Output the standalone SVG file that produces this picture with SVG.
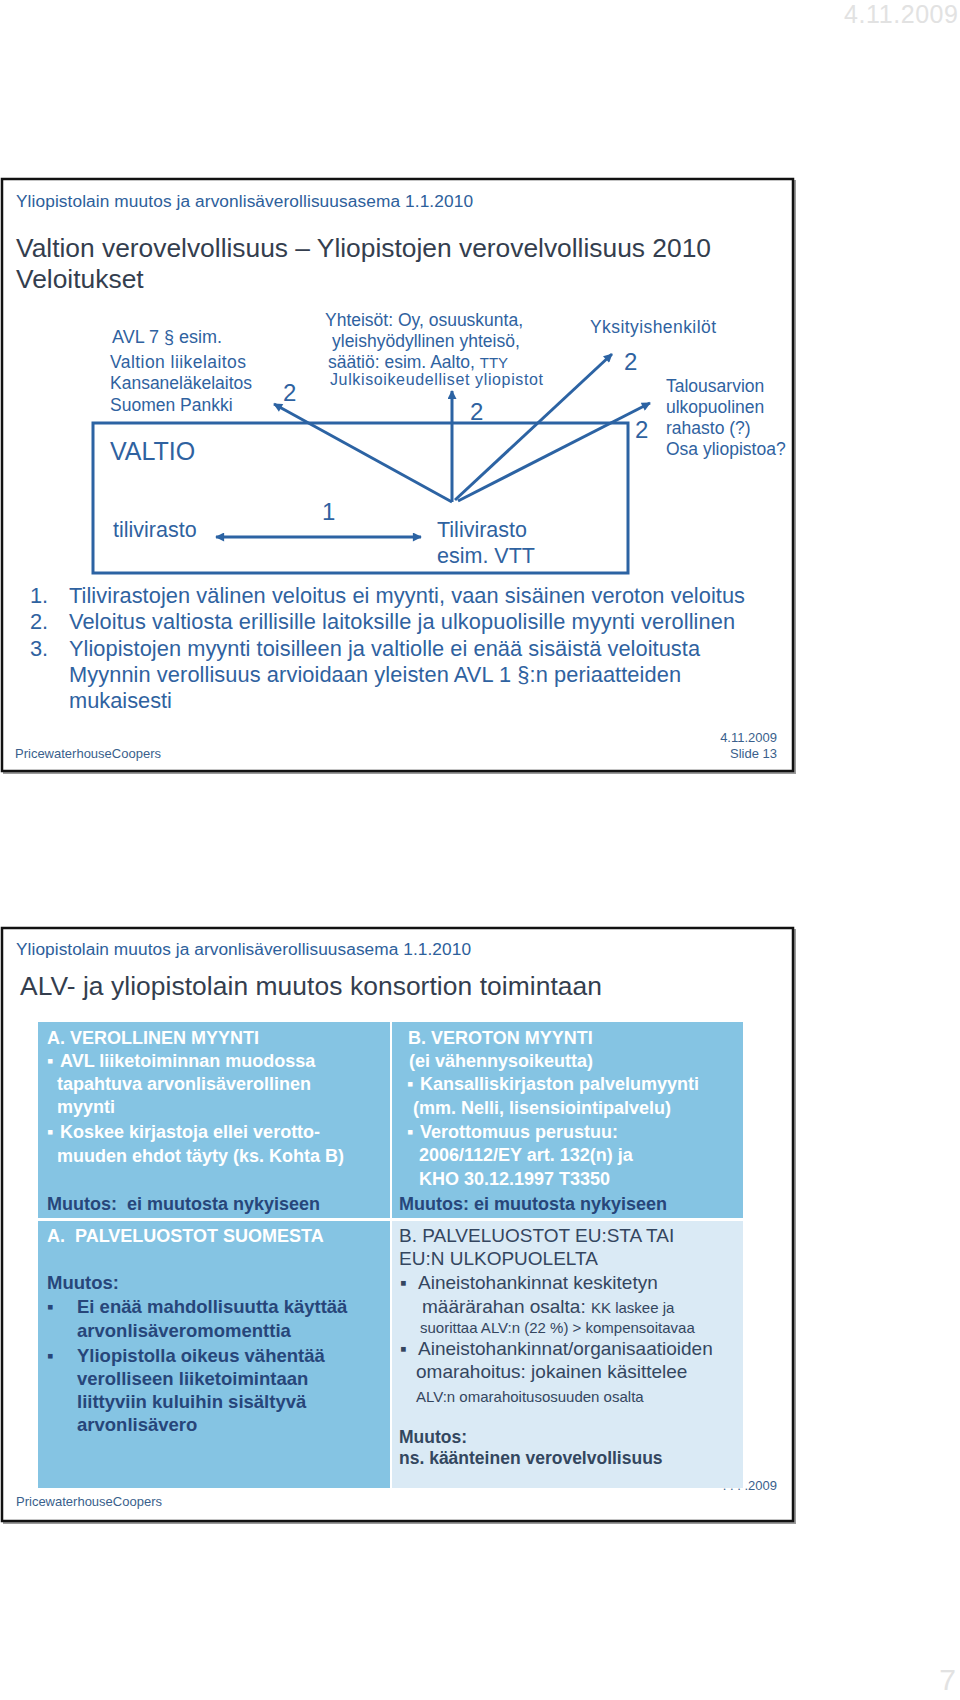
<svg xmlns="http://www.w3.org/2000/svg" width="960" height="1700" viewBox="0 0 960 1700">
<defs>
<marker id="ah" viewBox="0 0 10 10" refX="9" refY="5" markerWidth="11" markerHeight="9" markerUnits="userSpaceOnUse" orient="auto-start-reverse">
<path d="M0,0 L10,5 L0,10 z" fill="#2C63A3"/>
</marker>
<style>
text{font-family:"Liberation Sans","DejaVu Sans",Arial,sans-serif;}
.frame{fill:#fff;stroke:#111;stroke-width:2.5;}
.shadow{fill:none;stroke:#9a9a9a;stroke-width:2;}
.hdr{font-size:17.3px;fill:#2D609B;}
.ttl{font-size:26.4px;fill:#343E4E;}
.dg{font-size:17.5px;fill:#2F62A0;}
.num{font-size:24px;fill:#2F62A0;}
.lst{font-size:21.8px;fill:#2F62A0;}
.ft{font-size:13px;fill:#3A5F8C;}
.conn{stroke:#2C63A3;stroke-width:3;fill:none;}
.wb{font-size:18px;font-weight:bold;fill:#ffffff;}
.nb{font-size:18.5px;font-weight:bold;fill:#27467A;}
.nr{font-size:19px;fill:#34465F;}
.ns{font-size:15px;fill:#34465F;}
.ghost{fill:#E2E2E2;}
</style>
</defs>

<text class="ghost" x="958" y="23" text-anchor="end" style="font-size:25px" textLength="114">4.11.2009</text>

<!-- SLIDE 1 -->
<g id="slide1">
<rect class="shadow" x="4" y="181" width="791" height="592"/>
<rect class="frame" x="2" y="179" width="791" height="592"/>
<text class="hdr" x="16" y="207" textLength="457">Yliopistolain muutos ja arvonlisäverollisuusasema 1.1.2010</text>
<text class="ttl" x="16" y="257" textLength="695">Valtion verovelvollisuus – Yliopistojen verovelvollisuus 2010</text>
<text class="ttl" x="16" y="288">Veloitukset</text>
</g>

<g id="valtio">
<rect x="93" y="423" width="535" height="150" fill="none" stroke="#2C63A3" stroke-width="3"/>
<text class="dg" x="110" y="460" style="font-size:25px">VALTIO</text>
</g>

<g id="liikelaitokset">
<text class="dg" x="112" y="343" style="font-size:18px">AVL 7 § esim.</text>
<text class="dg" x="110" y="368" textLength="136">Valtion liikelaitos</text>
<text class="dg" x="110" y="389">Kansaneläkelaitos</text>
<text class="dg" x="110" y="411">Suomen Pankki</text>
</g>

<g id="yhteisot">
<text class="dg" x="325" y="326" textLength="198">Yhteisöt: Oy, osuuskunta,</text>
<text class="dg" x="332" y="347">yleishyödyllinen yhteisö,</text>
<text class="dg" x="328" y="368">säätiö: esim. Aalto, <tspan style="font-size:15px">TTY</tspan></text>
<text class="dg" x="330" y="385" style="font-size:16px" textLength="213">Julkisoikeudelliset yliopistot</text>
</g>

<g id="yksityis">
<text class="dg" x="590" y="333" textLength="126">Yksityishenkilöt</text>
</g>

<g id="talousarvio">
<text class="dg" x="666" y="392">Talousarvion</text>
<text class="dg" x="666" y="413">ulkopuolinen</text>
<text class="dg" x="666" y="434">rahasto (?)</text>
<text class="dg" x="666" y="455">Osa yliopistoa?</text>
</g>

<g id="tilivirasto-a">
<text class="dg" x="113" y="537" style="font-size:21.5px">tilivirasto</text>
</g>

<g id="tilivirasto-b">
<text class="dg" x="437" y="537" style="font-size:21.5px">Tilivirasto</text>
<text class="dg" x="437" y="563" style="font-size:21.5px">esim. VTT</text>
</g>

<g id="connectors">
<line class="conn" x1="452" y1="502" x2="274" y2="404" marker-end="url(#ah)"/>
<line class="conn" x1="452" y1="502" x2="452" y2="391" marker-end="url(#ah)"/>
<line class="conn" x1="455" y1="500" x2="612" y2="354" marker-end="url(#ah)"/>
<line class="conn" x1="458" y1="501" x2="650" y2="403" marker-end="url(#ah)"/>
<line class="conn" x1="216" y1="537" x2="421" y2="537" marker-start="url(#ah)" marker-end="url(#ah)"/>
<text class="num" x="283" y="401">2</text>
<text class="num" x="470" y="420">2</text>
<text class="num" x="624" y="370">2</text>
<text class="num" x="635" y="438">2</text>
<text class="num" x="322" y="520">1</text>
</g>

<g id="list1">
<text class="lst" x="30" y="603">1.</text>
<text class="lst" x="69" y="603" textLength="676">Tilivirastojen välinen veloitus ei myynti, vaan sisäinen veroton veloitus</text>
<text class="lst" x="30" y="629">2.</text>
<text class="lst" x="69" y="629" textLength="666">Veloitus valtiosta erillisille laitoksille ja ulkopuolisille myynti verollinen</text>
<text class="lst" x="30" y="656">3.</text>
<text class="lst" x="69" y="656" textLength="631">Yliopistojen myynti toisilleen ja valtiolle ei enää sisäistä veloitusta</text>
<text class="lst" x="69" y="682" textLength="612">Myynnin verollisuus arvioidaan yleisten AVL 1 §:n periaatteiden</text>
<text class="lst" x="69" y="708">mukaisesti</text>
</g>

<g id="footer1">
<text class="ft" x="15" y="758">PricewaterhouseCoopers</text>
<text class="ft" x="777" y="742" text-anchor="end">4.11.2009</text>
<text class="ft" x="777" y="758" text-anchor="end">Slide 13</text>
</g>

<!-- SLIDE 2 -->
<g id="slide2">
<rect class="shadow" x="4" y="930" width="791" height="593"/>
<rect class="frame" x="2" y="928" width="791" height="593"/>
<text class="hdr" x="16" y="955" textLength="455">Yliopistolain muutos ja arvonlisäverollisuusasema 1.1.2010</text>
<text class="ttl" x="20" y="995" textLength="582">ALV- ja yliopistolain muutos konsortion toimintaan</text>
</g>

<g id="cellA1">
<rect x="38" y="1022" width="352" height="196" fill="#85C4E3"/>
<text class="wb" x="47" y="1044">A. VEROLLINEN MYYNTI</text>
<text class="wb" y="1067"><tspan x="47">▪</tspan><tspan x="60">AVL liiketoiminnan muodossa</tspan></text>
<text class="wb" x="57" y="1090">tapahtuva arvonlisäverollinen</text>
<text class="wb" x="57" y="1113">myynti</text>
<text class="wb" y="1138"><tspan x="47">▪</tspan><tspan x="60">Koskee kirjastoja ellei verotto-</tspan></text>
<text class="wb" x="57" y="1162">muuden ehdot täyty (ks. Kohta B)</text>
<text class="nb" x="47" y="1210" style="font-size:18px;white-space:pre">Muutos:  ei muutosta nykyiseen</text>
</g>

<g id="cellB1">
<rect x="392" y="1022" width="351" height="196" fill="#85C4E3"/>
<text class="wb" x="408" y="1044">B. VEROTON MYYNTI</text>
<text class="wb" x="409" y="1067">(ei vähennysoikeutta)</text>
<text class="wb" y="1090"><tspan x="407">▪</tspan><tspan x="420">Kansalliskirjaston palvelumyynti</tspan></text>
<text class="wb" x="413" y="1114">(mm. Nelli, lisensiointipalvelu)</text>
<text class="wb" y="1138"><tspan x="407">▪</tspan><tspan x="420">Verottomuus perustuu:</tspan></text>
<text class="wb" x="419" y="1161">2006/112/EY art. 132(n) ja</text>
<text class="wb" x="419" y="1185">KHO 30.12.1997 T3350</text>
<text class="nb" x="399" y="1210" style="font-size:18px">Muutos: ei muutosta nykyiseen</text>
</g>

<g id="cellA2">
<rect x="38" y="1221" width="352" height="267" fill="#85C4E3"/>
<text class="wb" x="47" y="1242" style="white-space:pre">A.  PALVELUOSTOT SUOMESTA</text>
<text class="nb" x="47" y="1289">Muutos:</text>
<text class="nb" y="1313"><tspan x="47">▪</tspan><tspan x="77">Ei enää mahdollisuutta käyttää</tspan></text>
<text class="nb" x="77" y="1337">arvonlisäveromomenttia</text>
<text class="nb" y="1362"><tspan x="47">▪</tspan><tspan x="77">Yliopistolla oikeus vähentää</tspan></text>
<text class="nb" x="77" y="1385">verolliseen liiketoimintaan</text>
<text class="nb" x="77" y="1408">liittyviin kuluihin sisältyvä</text>
<text class="nb" x="77" y="1431">arvonlisävero</text>
</g>

<g id="cellB2">
<rect x="392" y="1221" width="351" height="267" fill="#DAEAF5"/>
<text class="nr" x="399" y="1242">B. PALVELUOSTOT EU:STA TAI</text>
<text class="nr" x="399" y="1265">EU:N ULKOPUOLELTA</text>
<text class="nr" y="1289"><tspan x="400" style="font-size:19px">▪</tspan><tspan x="418">Aineistohankinnat keskitetyn</tspan></text>
<text class="nr" x="422" y="1313">määrärahan osalta: <tspan style="font-size:15px">KK laskee ja</tspan></text>
<text class="ns" x="420" y="1333">suorittaa ALV:n (22 %) &gt; kompensoitavaa</text>
<text class="nr" y="1355"><tspan x="400" style="font-size:19px">▪</tspan><tspan x="418">Aineistohankinnat/organisaatioiden</tspan></text>
<text class="nr" x="416" y="1378">omarahoitus: jokainen käsittelee</text>
<text class="ns" x="416" y="1402">ALV:n omarahoitusosuuden osalta</text>
<text class="nb" x="399" y="1443" style="font-size:17.5px;fill:#33475F">Muutos:</text>
<text class="nb" x="399" y="1464" style="font-size:17.5px;fill:#33475F">ns. käänteinen verovelvollisuus</text>
</g>

<g id="footer2">
<text class="ft" x="16" y="1506">PricewaterhouseCoopers</text>
<text class="ft" x="777" y="1490" text-anchor="end">. . . .2009</text>
</g>

<text class="ghost" x="956" y="1690" text-anchor="end" style="font-size:30px">7</text>
</svg>
